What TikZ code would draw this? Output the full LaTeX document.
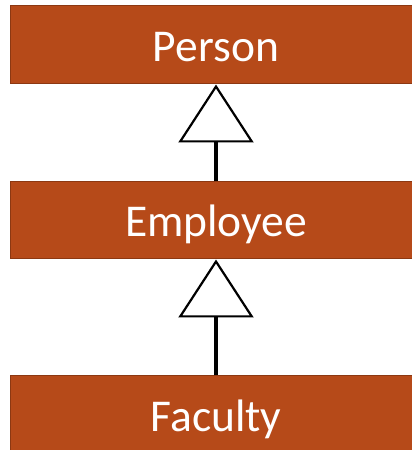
\documentclass[tikz,border=0pt]{standalone}
\usepackage{fontspec}
\setmainfont{Carlito}
\usetikzlibrary{arrows.meta}
\definecolor{boxfill}{HTML}{B64A19}
\definecolor{boxline}{HTML}{8C3812}
\tikzset{
  classbox/.style={rectangle, fill=boxfill, draw=boxline, line width=1pt,
    minimum width=412pt, minimum height=77pt, inner sep=0pt,
    text=white, font=\fontsize{45.5}{50}\selectfont,
    text height=35pt, text depth=2pt},
  inherit/.style={line width=4pt, draw=black,
    -{Triangle[open, length=58pt, width=75pt, line width=2.2pt]}}
}
\begin{document}
\begin{tikzpicture}[x=1pt,y=1pt]
\useasboundingbox (0,0) rectangle (412,450);
\clip (0,0) rectangle (412,450);
\fill[white] (0,0) rectangle (412,450);
\node[classbox, minimum height=78pt] (person) at (216,405) {Person};
\node[classbox] (employee) at (216,229.5) {Employee};
\node[classbox, minimum height=78pt] (faculty) at (216,35) {Faculty};
\draw[inherit] (employee.north) -- (person.south);
\draw[inherit] (faculty.north) -- (employee.south);
\end{tikzpicture}
\end{document}
